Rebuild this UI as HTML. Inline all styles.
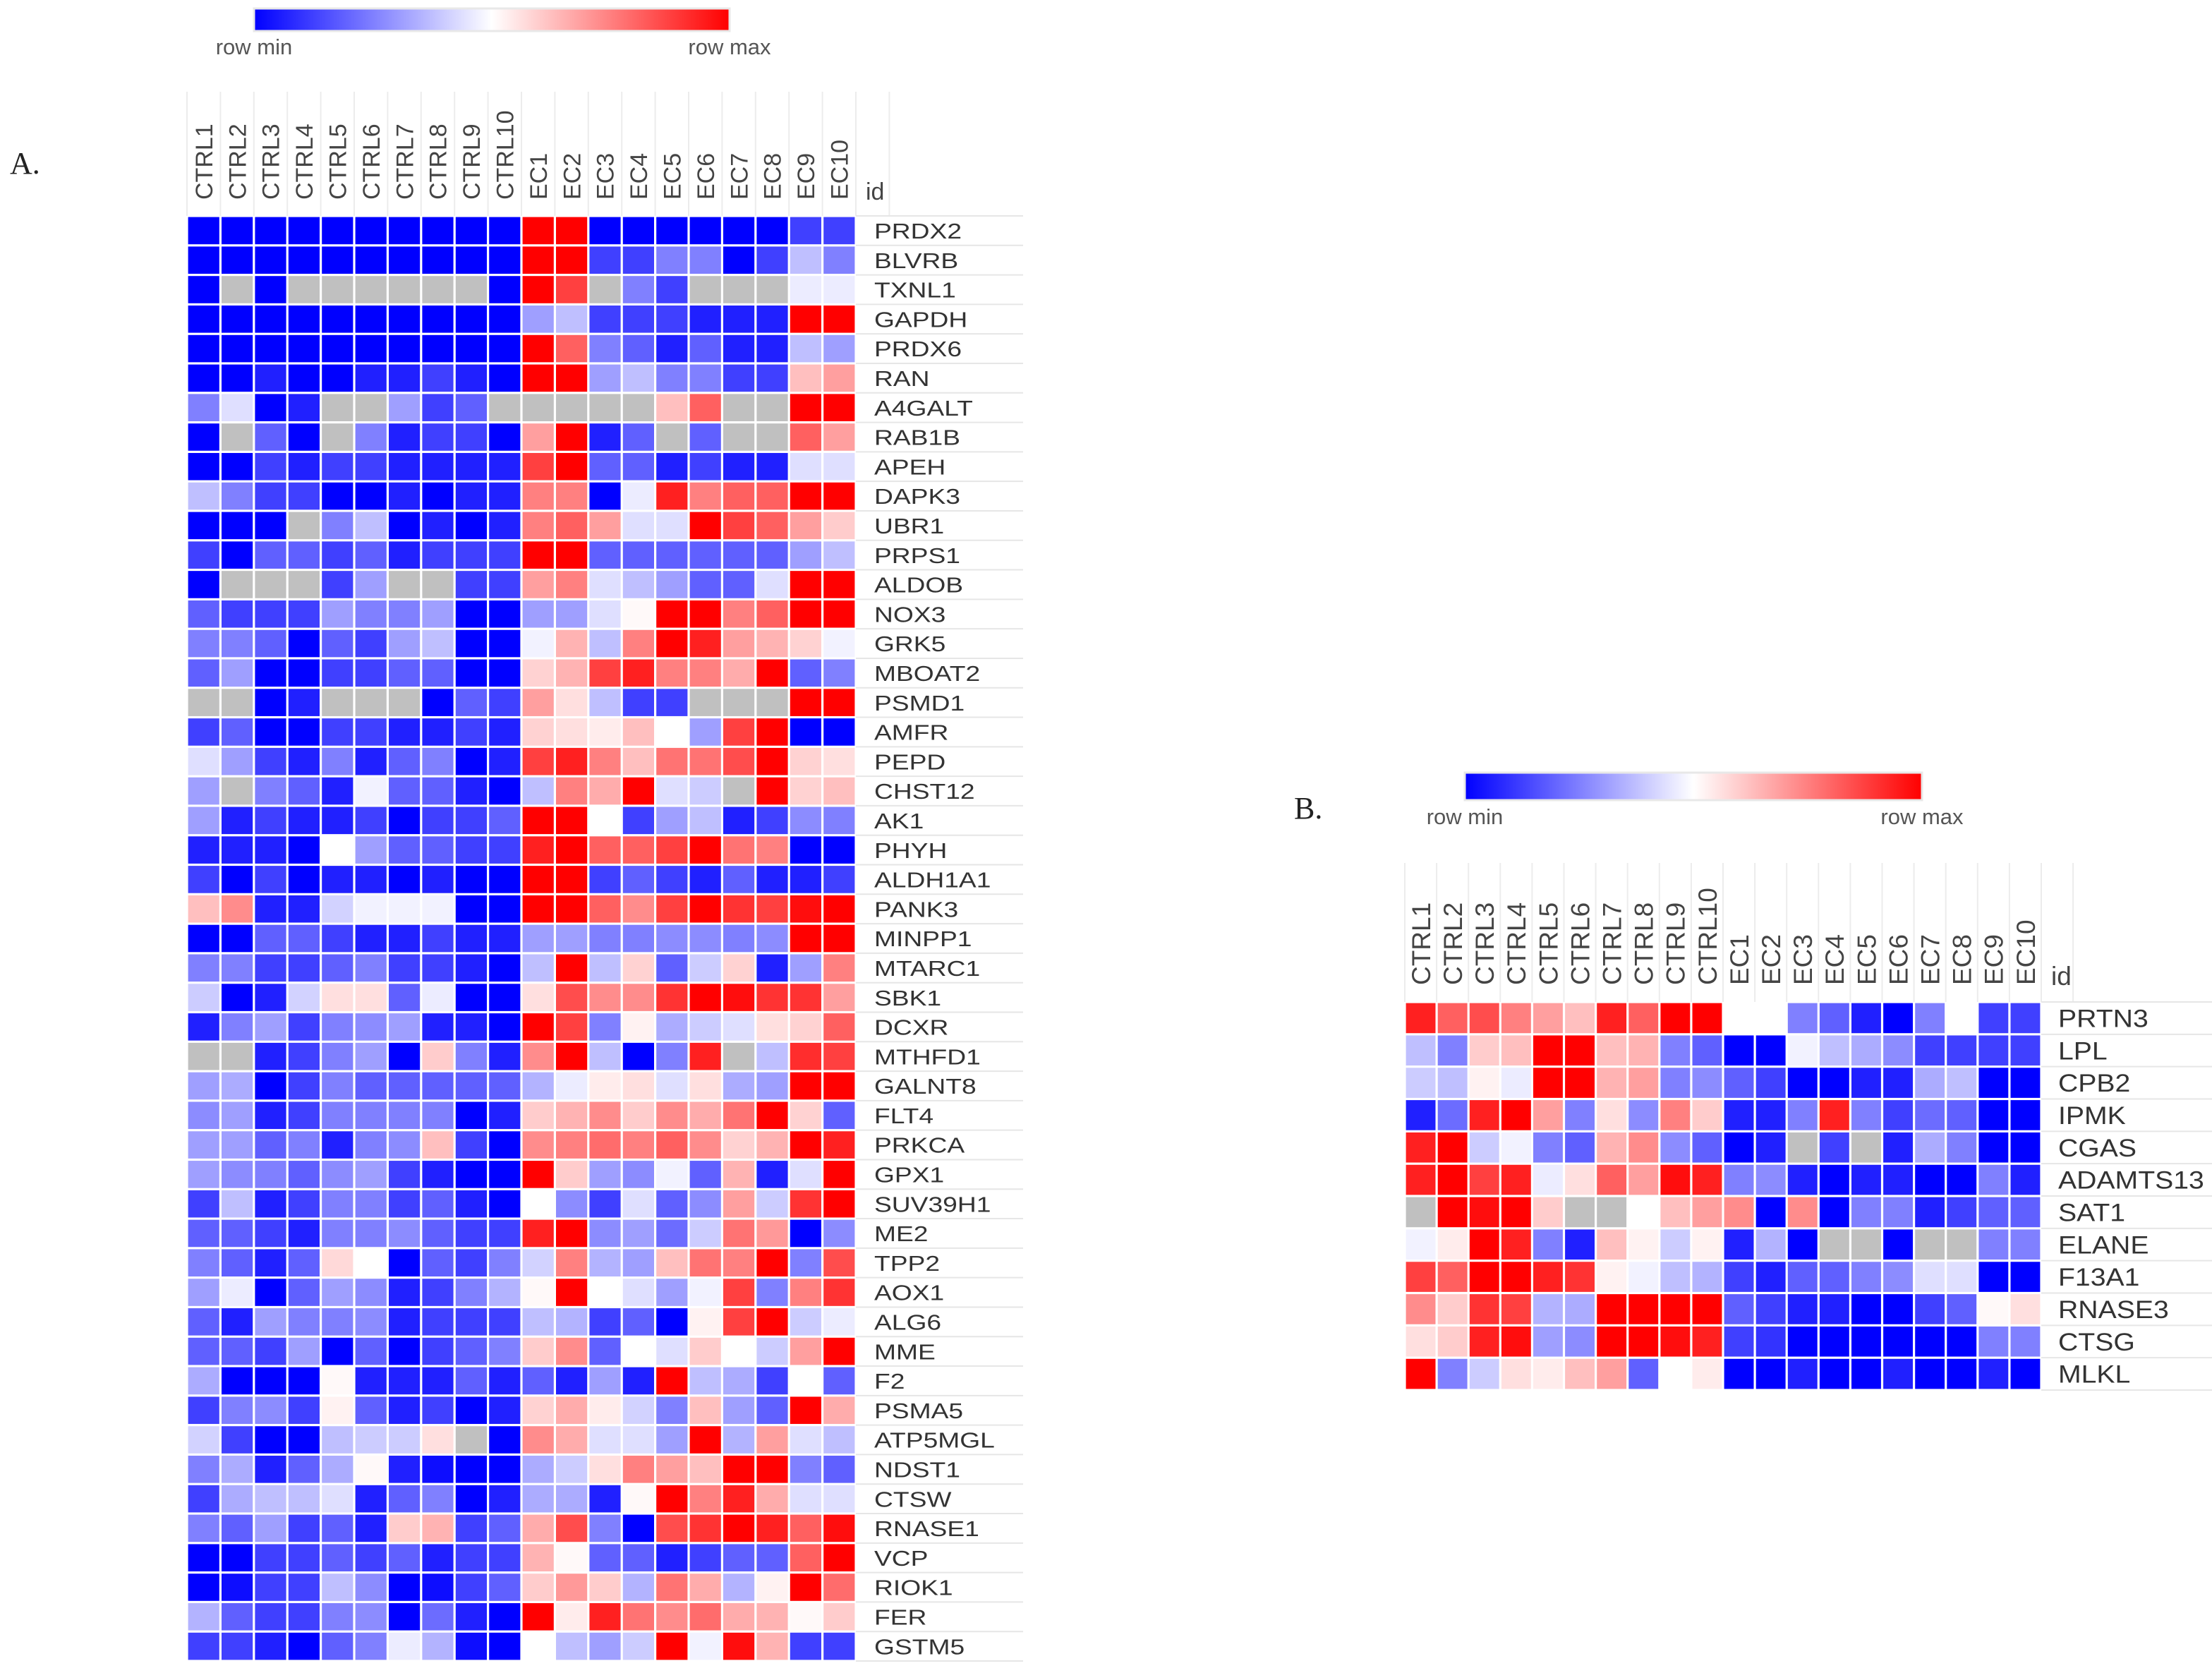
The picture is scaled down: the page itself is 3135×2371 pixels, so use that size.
<!DOCTYPE html>
<html><head><meta charset="utf-8"><style>
html,body{margin:0;padding:0;background:#fff;}
svg{display:block;font-family:"Liberation Sans",sans-serif;}
</style></head><body>
<svg id="chart" width="3135" height="2371" viewBox="0 0 3135 2371" xmlns="http://www.w3.org/2000/svg">
<defs>
<linearGradient id="gradA" x1="0" x2="1" y1="0" y2="0">
<stop offset="0" stop-color="#0000ff"/><stop offset="0.5" stop-color="#ffffff"/><stop offset="1" stop-color="#ff0000"/>
</linearGradient>
</defs>
<text x="14" y="246" font-family="Liberation Serif, serif" font-size="44" fill="#222">A.</text>
<text x="1834" y="1160" font-family="Liberation Serif, serif" font-size="44" fill="#222">B.</text>
<g id="gA"></g>
<g id="gB"></g>
</svg>
<script>
const columns = ["CTRL1","CTRL2","CTRL3","CTRL4","CTRL5","CTRL6","CTRL7","CTRL8","CTRL9","CTRL10","EC1","EC2","EC3","EC4","EC5","EC6","EC7","EC8","EC9","EC10"];
const genesA = ["PRDX2","BLVRB","TXNL1","GAPDH","PRDX6","RAN","A4GALT","RAB1B","APEH","DAPK3","UBR1","PRPS1","ALDOB","NOX3","GRK5","MBOAT2","PSMD1","AMFR","PEPD","CHST12","AK1","PHYH","ALDH1A1","PANK3","MINPP1","MTARC1","SBK1","DCXR","MTHFD1","GALNT8","FLT4","PRKCA","GPX1","SUV39H1","ME2","TPP2","AOX1","ALG6","MME","F2","PSMA5","ATP5MGL","NDST1","CTSW","RNASE1","VCP","RIOK1","FER","GSTM5"];
const g = null;
// values on a -4 (row min) .. 4 (row max) scale; null = missing (gray)
const valuesA = [
[-4,-4,-4,-4,-4,-4,-4,-4,-4,-4, 4,4,-4,-4,-4,-4,-4,-4,-3,-3],
[-4,-4,-4,-4,-4,-4,-4,-4,-4,-4, 4,4,-3,-3,-2,-2,-4,-3,-1,-2],
[-4,g,-4,g,g,g,g,g,g,-4, 4,3,g,-2,-3,g,g,g,-0.3,-0.3],
[-4,-4,-4,-4,-4,-4,-4,-4,-4,-4, -1.5,-1,-3,-3,-3,-3.5,-3.5,-3.5,4,4],
[-4,-4,-4,-4,-4,-4,-4,-4,-4,-4, 4,2.5,-2,-2.5,-3.5,-2.5,-3.5,-3.5,-1,-1.5],
[-4,-4,-3.5,-4,-4,-3.5,-3.5,-3,-3.5,-4, 4,4,-1.5,-1,-2,-2,-3,-3,1,1.5],
[-2,-0.5,-4,-3.5,g,g,-1.5,-3,-2.5,g, g,g,g,g,1,2.5,g,g,4,4],
[-4,g,-2.5,-4,g,-2,-3.5,-3,-3,-4, 1.5,4,-3.5,-2.5,g,-2.5,g,g,2.5,1.5],
[-4,-4,-3,-3.5,-3,-3,-3.5,-3.5,-3.5,-3.5, 3,4,-2.5,-2.5,-3.5,-3,-3.5,-3.5,-0.5,-0.5],
[-1,-2,-3,-3,-4,-4,-3.5,-4,-3.5,-3.5, 2,2,-4,-0.3,3.5,2,2.5,2.5,4,4],
[-4,-4,-4,g,-2,-1,-4,-3.5,-4,-3.5, 2,2.5,1.5,-0.5,-0.5,4,3,2.5,1.5,0.8],
[-3,-4,-2.5,-2.5,-3,-2.5,-3.5,-3,-3,-3, 4,4,-2.5,-2.5,-2.5,-2.5,-2.5,-2.5,-1.5,-1],
[-4,g,g,g,-3,-1.5,g,g,-3,-3, 1.5,2,-0.5,-1,-1.5,-2.5,-2.5,-0.5,4,4],
[-2.5,-3,-3,-3,-1.5,-2,-2,-1.5,-4,-4, -1.5,-1.5,-0.5,0.1,4,4,2,2.5,4,4],
[-2,-2,-2.5,-4,-2.5,-3,-1.5,-1,-4,-4, -0.2,1.2,-1,2,4,3.5,1.5,1.2,0.7,-0.2],
[-2.5,-1.5,-4,-4,-3,-3,-2.5,-2.5,-4,-4, 0.7,1.2,3,3.5,2,2,1.3,4,-2.5,-2],
[g,g,-4,-3.5,g,g,g,-4,-2.5,-3, 1.5,0.5,-1,-3,-3,g,g,g,4,4],
[-3,-2.5,-4,-4,-3,-3,-3.5,-3.5,-3,-3.5, 0.7,0.5,0.3,1,0,-1.5,3,4,-4,-4],
[-0.5,-1.5,-3,-3.5,-2,-3.5,-2.5,-2,-4,-3.5, 3,3.5,2,1,2.2,2.2,2.8,4,0.7,0.5],
[-1.5,g,-2,-2.5,-3.5,-0.2,-2.5,-2.5,-3.5,-4, -1,2,1.3,4,-0.5,-0.8,g,4,0.7,1],
[-1.5,-3.5,-3,-3.5,-3.5,-3,-4,-3,-3,-2.5, 4,4,0,-3,-1.5,-1,-3.5,-3,-1.8,-2],
[-3.5,-3.5,-3.5,-4,0,-1.5,-2.5,-2.5,-3,-3, 3.5,4,2.5,2.5,3,4,2.2,2,-4,-4],
[-3,-4,-3,-4,-3.5,-3.5,-4,-3.5,-4,-4, 4,4,-3,-2.5,-3,-3.5,-2.5,-3.5,-3.5,-3],
[1,1.8,-3.5,-3.5,-0.7,-0.2,-0.2,-0.2,-4,-4, 4,4,2.5,1.8,3,4,3.2,3,3.8,4],
[-4,-4,-2.5,-2.5,-3,-3.5,-3.5,-3,-3.5,-3.5, -1.5,-1.5,-2,-2,-1.8,-1.8,-2,-1.8,4,4],
[-2,-2,-3,-3,-2.5,-2,-3,-3,-3.5,-4, -1,4,-1,0.7,-2.5,-0.8,0.7,-3.5,-1.5,2],
[-0.8,-4,-3.5,-0.7,0.5,0.5,-2.5,-0.3,-4,-4, 0.5,2.8,1.8,1.8,3.2,4,3.8,3.2,3.2,1.5],
[-3.5,-2,-1.5,-3,-2,-1.8,-1.5,-3.5,-3.5,-4, 4,3,-2,0.2,-1.3,-0.8,-0.5,0.5,0.7,2.5],
[g,g,-3.5,-3,-2,-1.5,-4,0.8,-2,-3.5, 1.8,4,-1,-4,-2,3.5,g,-1,3.3,3],
[-1.5,-1.3,-4,-3,-2,-2.5,-2.5,-2.5,-2.5,-2.5, -1.2,-0.3,0.3,0.5,-0.5,0.5,-1.3,-1.5,4,4],
[-1.8,-1.5,-3.5,-3,-2,-2,-2,-2,-4,-3.5, 0.8,1.2,1.8,0.8,1.8,1.3,2.2,4,0.7,-2.5],
[-1.5,-1.5,-2.5,-2,-3.5,-2,-1.8,1,-3,-4, 1.8,2,2.3,2,2.5,1.8,0.7,1.2,4,3.5],
[-1.5,-1.8,-2,-2.5,-1.8,-1.5,-3,-3.5,-4,-4, 4,0.8,-1.5,-1.8,-0.2,-2.5,1.2,-3.5,-0.5,4],
[-3,-1,-3.5,-3,-2,-2,-3,-2.5,-3.5,-4, 0,-1.8,-3,-0.5,-2.5,-1.8,1.5,-0.8,3.2,4],
[-2.5,-2.5,-3,-3.5,-2,-2,-1.8,-2.5,-3,-3, 3.5,4,-1.8,-1.5,-2.3,-0.8,2.2,1.6,-4,-1.8],
[-2,-2.5,-3.5,-2.5,0.6,0,-4,-2.5,-3,-2, -0.7,2,-1.2,-1.5,1,2.2,2,4,-2,2.8],
[-1.5,-0.3,-4,-2.5,-1.5,-1.8,-3.5,-3,-2,-1.2, 0.1,4,0,-0.5,-1.5,-0.2,3,-2,2,3.2],
[-2.5,-3.5,-1.5,-2,-2,-1.8,-3.5,-3,-3,-3, -1,-1.2,-3,-2.5,-4,0.2,3,4,-0.8,-0.3],
[-2.5,-2.5,-3,-1.5,-4,-2.5,-4,-3,-2.5,-2, 0.8,1.8,-2.5,0,-0.5,0.8,0,-0.8,1.5,4],
[-1.3,-4,-4,-4,0.1,-3.5,-3.5,-3.5,-2.5,-3.5, -2.5,-3.5,-1.5,-3.5,4,-1,-1.3,-3,0,-2.5],
[-3,-2,-1.8,-3,0.2,-2.5,-3.5,-3,-4,-3.5, 0.7,1.3,0.3,-0.7,-2,1,-1.5,-2.5,4,1.3],
[-0.7,-3,-4,-4,-1,-0.8,-0.8,0.5,g,-4, 1.8,1.3,-0.5,-0.5,-1.5,4,-1.2,1.5,-0.5,-1],
[-2,-1.3,-3.5,-2.5,-1.3,0.1,-3.5,-3.8,-4,-4, -1.3,-0.8,0.5,2,1.5,1,4,4,-2,-2.5],
[-3,-1.3,-1,-1,-0.5,-3.5,-2.5,-2,-4,-3.5, -1.3,-1.3,-3.5,0.1,4,2,3.5,1.3,-0.5,-0.5],
[-2,-2.5,-1.5,-3,-2.5,-3.5,0.8,1.2,-3,-2.5, 1.3,2.8,-2,-4,2.8,3.2,4,3.5,2.5,3.8],
[-4,-4,-3,-3,-2.5,-3,-2.5,-3.5,-3,-3, 1.2,0.1,-2.5,-2.5,-3.5,-3,-2.5,-2.5,2.5,4],
[-4,-3.8,-3,-3,-1,-1.8,-4,-3.8,-3,-2.5, 0.8,1.6,0.8,-1.2,2.2,1.3,-1.2,0.2,4,2.3],
[-1.2,-2.5,-3,-3,-2,-1.8,-4,-2.3,-3.5,-4, 4,0.3,3.5,2.2,1.8,2.3,1.3,1.2,0.1,0.8],
[-3,-3,-3.5,-4,-2.5,-2,-0.3,-1.2,-3.8,-4, 0,-1,-1.5,-0.8,4,-0.2,3.8,1.2,-3,-3]
];
const genesB = ["PRTN3","LPL","CPB2","IPMK","CGAS","ADAMTS13","SAT1","ELANE","F13A1","RNASE3","CTSG","MLKL"];
const valuesB = [
[3.5,2.5,2.8,2,1.5,1,3.5,2.5,4,4, 0,0,-2,-2.5,-3.5,-4,-2,0,-3,-3],
[-1,-2,0.8,1,4,4,1,1.2,-2,-2.5, -4,-4,-0.2,-1,-1.3,-1.8,-3,-3,-3,-3],
[-0.8,-1,0.2,-0.3,4,4,1.2,1.5,-2,-1.8, -2.5,-3,-4,-4,-3.5,-3.5,-1.3,-1,-4,-4],
[-3.5,-2.3,3.5,4,1.5,-2,0.5,-1.8,2,0.8, -3.5,-3.5,-2,3.5,-2,-3,-2.3,-2.5,-4,-4],
[3.5,4,-0.8,-0.2,-2,-2.5,1.2,1.8,-1.8,-2.5, -4,-3.5,g,-3,g,-3.5,-1.3,-2,-4,-4],
[3.5,4,3,3.5,-0.3,0.5,2.5,1.5,3.8,3.5, -2,-1.8,-3.5,-4,-3.5,-3.5,-4,-4,-2,-3.5],
[g,4,3.8,4,0.8,g,g,0,1,1.5, 1.8,-4,1.8,-4,-2,-2,-3.5,-3,-2.5,-2.5],
[-0.2,0.3,4,3.5,-2,-3.5,1,0.2,-0.8,0.2, -3.5,-1.2,-4,g,g,-4,g,g,-2,-2],
[3,2.5,4,4,3.5,3.2,0.2,-0.2,-1,-1.2, -3,-3.5,-2.5,-2.5,-2,-1.8,-0.5,-0.5,-4,-4],
[1.8,0.8,3.2,3,-1.2,-1.3,4,4,4,4, -2.5,-3,-3.5,-3.5,-4,-4,-3,-2.5,0.1,0.5],
[0.5,0.8,3.5,3.8,-1.5,-1.8,4,4,3.8,3.5, -3,-3.2,-4,-4,-4,-4,-4,-4,-2,-2],
[4,-2,-0.8,0.5,0.3,1,1.5,-2.5,0,0.3, -4,-4,-3.5,-4,-4,-3.5,-4,-4,-3.5,-4]
];

const NS = "http://www.w3.org/2000/svg";
function el(tag, attrs, parent){
  const e = document.createElementNS(NS, tag);
  for (const k in attrs) e.setAttribute(k, attrs[k]);
  parent.appendChild(e);
  return e;
}
function color(v){
  if (v === null) return "#c0c0c0";
  let t = Math.max(-1, Math.min(1, v/4));
  if (t < 0){ const c = Math.round(255*(1+t)); return `rgb(${c},${c},255)`; }
  const c = Math.round(255*(1-t)); return `rgb(255,${c},${c})`;
}

function drawPanel(gid, cfg, genes, values){
  const G = document.getElementById(gid);
  const cw = (cfg.x1 - cfg.x0) / columns.length;
  const rh = (cfg.y1 - cfg.y0) / genes.length;
  const xAt = i => cfg.x0 + i*cw;
  const yAt = j => cfg.y0 + j*rh;
  const bar = el("rect", {x:cfg.cbx0, y:cfg.cby0, width:cfg.cbx1-cfg.cbx0, height:cfg.cby1-cfg.cby0, fill:"url(#gradA)", stroke:"#e8e8e8", "stroke-width":3}, G);
  
  
  const tmin = el("text", {x:cfg.cbx0, y:cfg.cbLabelY, "text-anchor":"middle", "font-size":cfg.cbFont, fill:"#555"}, G);
  tmin.textContent = "row min";
  
  
  const tmax = el("text", {x:cfg.cbx1, y:cfg.cbLabelY, "text-anchor":"middle", "font-size":cfg.cbFont, fill:"#555"}, G);
  tmax.textContent = "row max";
  
  
  for (let i = 0; i <= columns.length + 1; i++){
    const ln = el("line", {x1:xAt(i), x2:xAt(i), y1:cfg.hdrTop, y2:cfg.y0, stroke:"#ececec", "stroke-width":2}, G);
    
    
  }
  for (let j = 0; j <= genes.length; j++){
    const ln = el("line", {x1:cfg.x1, x2:cfg.lineEnd, y1:yAt(j), y2:yAt(j), stroke:"#e6e6e6", "stroke-width":2}, G);
    
    
  }
  columns.forEach((c, i) => {
    const cx = xAt(i) + cw/2 + cfg.colFont*0.36;
    const t = el("text", {x:cx, y:cfg.colBase, "font-size":cfg.colFont, fill:"#444", transform:`rotate(-90 ${cx} ${cfg.colBase})`}, G);
    t.textContent = c;
    
    
  });
  const idt = el("text", {x:cfg.x1 + 14, y:cfg.colBase, "font-size":cfg.colFont, fill:"#444"}, G);
  idt.textContent = "id";
  
  
  const pad = 1.6;
  values.forEach((row, j) => {
    row.forEach((v, i) => {
      const r = el("rect", {x:xAt(i)+pad, y:yAt(j)+pad, width:cw-2*pad, height:rh-2*pad, fill:color(v)}, G);
      
      
    });
    const lx = cfg.x1 + cfg.labelGap;
    const ly = yAt(j) + rh/2 + cfg.rowFont*0.36;
    const t = el("text", {x:0, y:0, "font-size":cfg.rowFont, fill:"#333", transform:`translate(${lx} ${ly}) scale(${cfg.sx} 1)`}, G);
    t.textContent = genes[j];
    
    
  });
}

drawPanel("gA", {x0:265, x1:1213, y0:306, y1:2354, cbx0:360, cbx1:1034, cby0:12, cby1:44, cbLabelY:77, cbFont:31,
  hdrTop:130, colBase:283, colFont:34, rowFont:31, labelGap:26, lineEnd:1450, sx:1.2}, genesA, valuesA);
drawPanel("gB", {x0:1991, x1:2893, y0:1420, y1:1970, cbx0:2076, cbx1:2724, cby0:1095, cby1:1134, cbLabelY:1168, cbFont:31,
  hdrTop:1223, colBase:1396, colFont:37, rowFont:35, labelGap:24, lineEnd:3135, sx:1.12}, genesB, valuesB);
</script>
</body></html>
